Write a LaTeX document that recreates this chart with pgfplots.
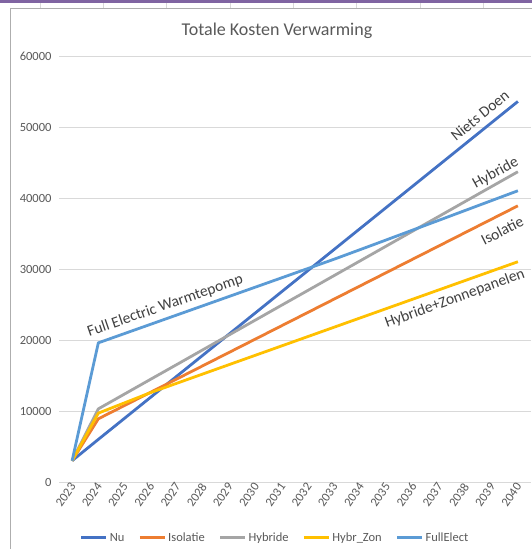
\documentclass[border=0pt]{standalone}
\usepackage{pgfplots}
\usepackage{pgfplotstable}
\pgfplotsset{compat=1.18}
\usepackage{fontspec}
\setmainfont{Carlito}
\definecolor{cNu}{HTML}{4472C4}
\definecolor{cIso}{HTML}{ED7D31}
\definecolor{cHyb}{HTML}{A5A5A5}
\definecolor{cZon}{HTML}{FFC000}
\definecolor{cFE}{HTML}{5B9BD5}
\definecolor{txt}{HTML}{595959}
\definecolor{lbl}{HTML}{404040}
\definecolor{gridc}{HTML}{D9D9D9}
\definecolor{band}{HTML}{8064A2}
\pgfplotstableread{
Year Nu Isolatie Hybride HybrZon FullElect
2023 3000 3000 3000 3000 3000
2024 6000 8900 10300 9700 19600
2025 8975 10775 12390 11150 20910
2026 11950 12650 14480 12600 22220
2027 14925 14525 16560 13916 23530
2028 17900 16400 18650 15232 24840
2029 20875 18275 20740 16548 26150
2030 23850 20150 22830 17864 27460
2031 26825 22025 24920 19180 28770
2032 29800 23900 27000 20496 30080
2033 32775 25775 29090 21812 31390
2034 35750 27650 31180 23128 32750
2035 38725 29525 33270 24444 34120
2036 41700 31400 35360 25760 35500
2037 44675 33275 37440 27076 36880
2038 47650 35150 39530 28392 38260
2039 50625 37025 41620 29708 39640
2040 53600 38900 43700 31024 41020
}\data
\begin{document}
\begin{tikzpicture}
\path[use as bounding box] (-59bp,-67bp) rectangle (473bp,482bp);
\fill[white] (-59bp,-67bp) rectangle (473bp,482bp);
\fill[band] (-59bp,479bp) rectangle (473bp,482bp);
\foreach \x in {40,103,166,230,293,356,420,483}{
  \draw[gridc,line width=0.6pt] ({(\x-59)*1bp},474bp) -- ({(\x-59)*1bp},479bp);
}
\draw[gridc!80!black,line width=0.6pt] (-49bp,-67bp) -- (-49bp,474bp) -- (473bp,474bp);
\node[text=txt,font=\fontsize{18bp}{21bp}\selectfont] at (218bp,451bp) {Totale Kosten Verwarming};
\begin{axis}[
  at={(0,0)}, anchor=south west,
  scale only axis, width=472bp, height=426bp,
  xmin=2022.5, xmax=2040.5, ymin=0, ymax=60000,
  xtick={2023,...,2040},
  ytick={0,10000,...,60000},
  /pgf/number format/1000 sep={},
  /pgf/number format/assume math mode=true,
  scaled y ticks=false,
  ymajorgrids,
  grid style={gridc,line width=0.8pt},
  axis line style={draw=none},
  tick style={draw=none},
  ticklabel style={text=txt,font=\fontsize{12.5bp}{14bp}\selectfont},
  xticklabel style={rotate=55,anchor=east,xshift=2bp,yshift=-2bp},
  yticklabel style={anchor=east,xshift=-4bp},
  legend columns=5,
  legend style={draw=none,fill=none,at={(0.458,-0.131)},anchor=center,
    font=\fontsize{12.5bp}{14bp}\selectfont,text=txt,
    /tikz/every even column/.append style={column sep=12bp}},
  legend image code/.code={\draw[#1,line width=2.8pt] (0bp,0bp) -- (25bp,0bp);},
  every axis plot/.append style={line width=2.8pt,no marks,line join=round},
  clip=false,
]
\addplot[cNu] table[x=Year,y=Nu]{\data};
\addplot[cIso] table[x=Year,y=Isolatie]{\data};
\addplot[cHyb] table[x=Year,y=Hybride]{\data};
\addplot[cZon] table[x=Year,y=HybrZon]{\data};
\addplot[cFE] table[x=Year,y=FullElect]{\data};
\legend{Nu,Isolatie,Hybride,Hybr\_Zon,FullElect}
\node[text=lbl,rotate=39,font=\fontsize{15.5bp}{18bp}\selectfont] at (axis cs:2038.55,51600) {Niets Doen};
\node[text=lbl,rotate=29,font=\fontsize{15.5bp}{18bp}\selectfont] at (axis cs:2039.15,43500) {Hybride};
\node[text=lbl,rotate=27,font=\fontsize{15.5bp}{18bp}\selectfont] at (axis cs:2039.4,35400) {Isolatie};
\node[text=lbl,rotate=20,font=\fontsize{15.5bp}{18bp}\selectfont] at (axis cs:2037.6,25800) {Hybride+Zonnepanelen};
\node[text=lbl,rotate=19,font=\fontsize{15.5bp}{18bp}\selectfont] at (axis cs:2026.55,24800) {Full Electric Warmtepomp};
\end{axis}
\end{tikzpicture}
\end{document}
